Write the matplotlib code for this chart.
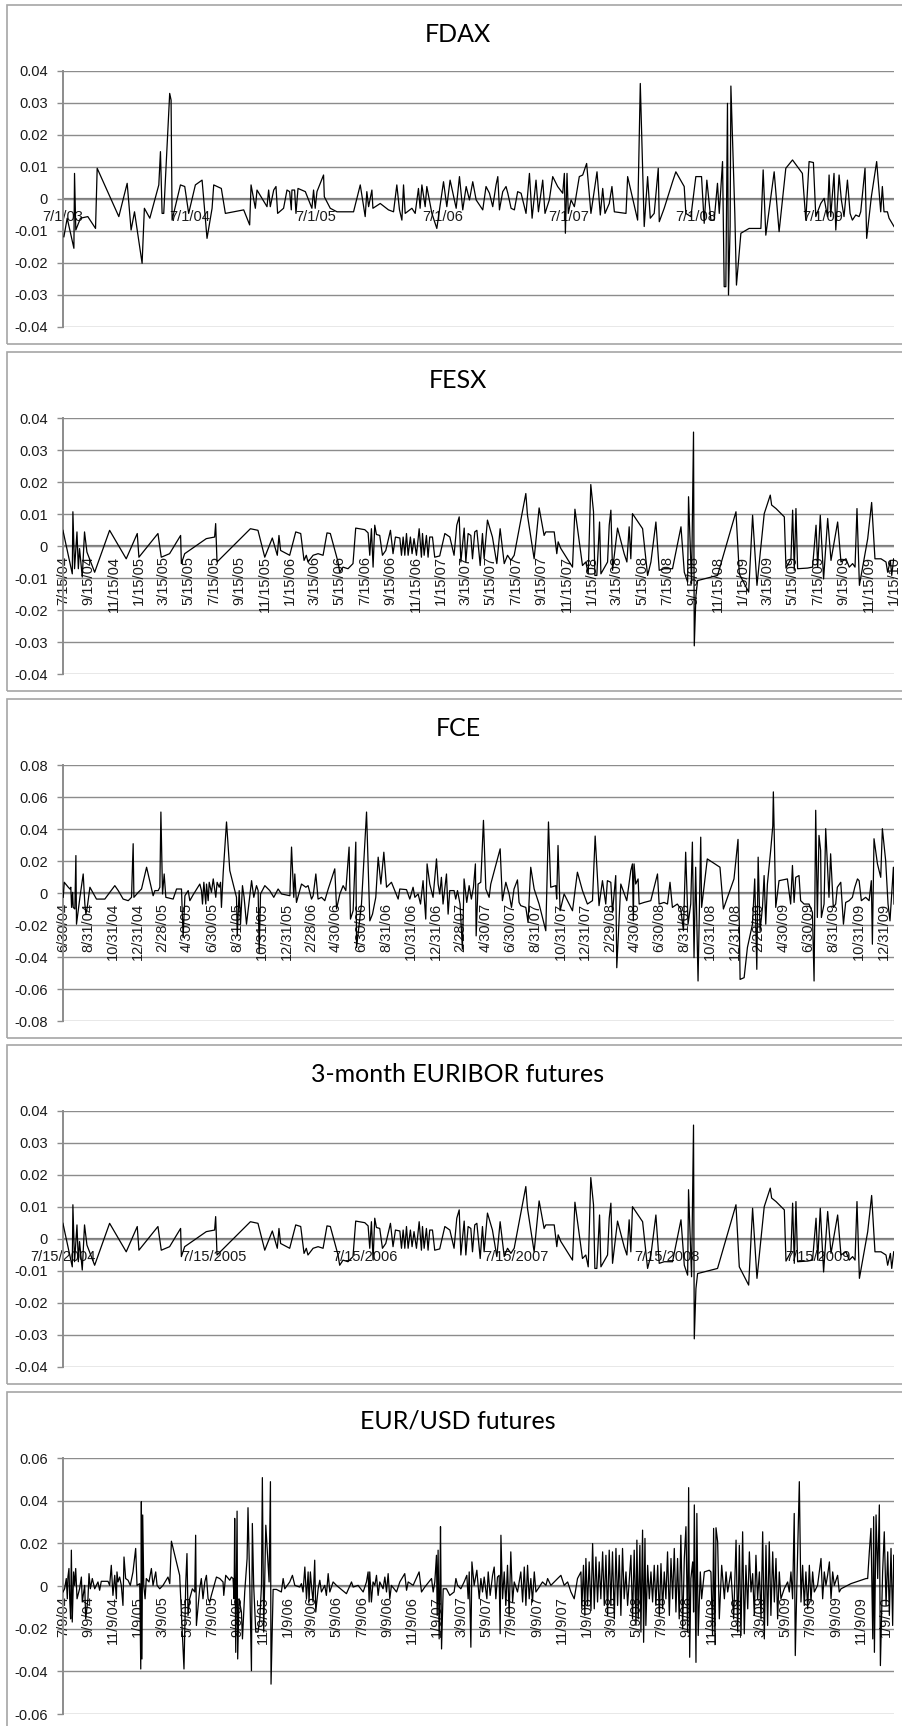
import datetime as dt
import matplotlib; matplotlib.use("Agg"); import matplotlib.pyplot as plt
from matplotlib.patches import Rectangle

# (decimal year, daily value)
fdax_pts = [
 (2003.503,-0.0118),(2003.529,-0.0060),(2003.582,-0.0154),(2003.587,0.0080),(2003.597,-0.0097),(2003.634,-0.0060),
 (2003.692,-0.0055),(2003.753,-0.0092),(2003.766,0.0096),(2003.937,-0.0055),(2004.003,0.0049),(2004.034,-0.0097),
 (2004.061,-0.0040),(2004.121,-0.0201),(2004.139,-0.0029),(2004.182,-0.0060),(2004.253,0.0044),(2004.266,0.0148),
 (2004.279,-0.0045),(2004.292,-0.0045),(2004.339,0.0330),(2004.350,0.0309),(2004.358,-0.0066),(2004.424,0.0044),
 (2004.458,0.0039),(2004.489,-0.0045),(2004.542,0.0044),(2004.595,0.0059),(2004.634,-0.0123),(2004.674,-0.0029),
 (2004.687,0.0044),(2004.747,0.0033),(2004.779,-0.0045),(2004.924,-0.0034),(2004.971,-0.0081),(2004.982,0.0044),
 (2005.016,-0.0029),(2005.029,0.0028),(2005.108,-0.0024),(2005.121,0.0028),(2005.134,-0.0024),(2005.161,0.0028),
 (2005.179,0.0039),(2005.192,-0.0045),(2005.239,-0.0029),(2005.266,0.0028),(2005.287,0.0023),(2005.300,-0.0034),
 (2005.305,0.0028),(2005.326,0.0028),(2005.337,-0.0045),(2005.353,0.0033),(2005.411,0.0023),(2005.463,-0.0029),
 (2005.476,0.0028),(2005.489,-0.0029),(2005.503,0.0023),(2005.555,0.0075),(2005.561,0.0007),(2005.608,-0.0029),
 (2005.661,-0.0040),(2005.792,-0.0040),(2005.845,0.0044),(2005.884,-0.0055),(2005.897,0.0023),(2005.911,-0.0024),
 (2005.937,0.0028),(2005.945,-0.0029),(2006.003,-0.0014),(2006.068,-0.0034),(2006.108,-0.0040),(2006.134,0.0044),
 (2006.155,-0.0034),(2006.174,-0.0066),(2006.187,0.0044),(2006.200,-0.0045),(2006.253,-0.0029),(2006.279,-0.0045),
 (2006.305,0.0033),(2006.318,-0.0029),(2006.332,0.0044),(2006.358,-0.0024),(2006.371,0.0039),(2006.411,-0.0045),
 (2006.450,-0.0092),(2006.503,0.0054),(2006.529,-0.0024),(2006.555,0.0059),(2006.603,-0.0029),(2006.629,0.0070),
 (2006.655,-0.0034),(2006.682,0.0039),(2006.708,-0.0003),(2006.734,0.0054),(2006.761,-0.0003),(2006.813,-0.0034),
 (2006.839,0.0039),(2006.866,0.0018),(2006.892,-0.0024),(2006.918,0.0044),(2006.932,0.0070),(2006.945,-0.0034),
 (2006.971,0.0023),(2006.997,0.0039),(2007.011,0.0018),(2007.037,-0.0029),(2007.063,-0.0034),(2007.089,0.0023),
 (2007.116,0.0018),(2007.129,-0.0003),(2007.155,-0.0045),(2007.182,0.0080),(2007.203,-0.0060),(2007.234,0.0059),
 (2007.253,-0.0040),(2007.287,0.0059),(2007.305,-0.0045),(2007.339,-0.0003),(2007.366,0.0070),(2007.405,0.0039),
 (2007.445,0.0018),(2007.458,0.0080),(2007.466,-0.0107),(2007.479,0.0080),(2007.489,-0.0045),(2007.511,-0.0003),
 (2007.537,-0.0024),(2007.576,0.0070),(2007.603,0.0075),(2007.634,0.0111),(2007.668,-0.0045),(2007.716,0.0085),
 (2007.742,-0.0050),(2007.761,0.0033),(2007.779,-0.0045),(2007.813,-0.0014),(2007.834,0.0039),(2007.853,-0.0040),
 (2007.945,-0.0045),(2007.958,0.0070),(2008.037,-0.0066),(2008.058,0.0361),(2008.089,-0.0086),(2008.116,0.0070),
 (2008.137,-0.0060),(2008.168,-0.0045),(2008.200,0.0096),(2008.208,-0.0071),(2008.247,-0.0029),(2008.313,0.0054),
 (2008.339,0.0085),(2008.405,0.0039),(2008.418,-0.0045),(2008.458,-0.0055),(2008.497,0.0070),(2008.542,0.0070),
 (2008.563,-0.0076),(2008.584,0.0059),(2008.616,-0.0066),(2008.642,-0.0066),(2008.668,0.0049),(2008.682,-0.0045),
 (2008.708,0.0117),(2008.721,-0.0274),(2008.734,-0.0274),(2008.747,0.0299),(2008.755,-0.0300),(2008.768,-0.0086),
 (2008.774,0.0353),(2008.805,-0.0045),(2008.818,-0.0269),(2008.853,-0.0107),(2008.918,-0.0092),(2009.011,-0.0092),
 (2009.029,0.0091),(2009.050,-0.0113),(2009.116,0.0085),(2009.155,-0.0102),(2009.208,0.0096),(2009.261,0.0122),
 (2009.339,0.0080),(2009.366,-0.0066),(2009.392,0.0117),(2009.426,0.0114),(2009.445,-0.0055),(2009.484,-0.0014),
 (2009.511,0.0002),(2009.537,-0.0055),(2009.550,0.0075),(2009.563,-0.0055),(2009.589,0.0080),(2009.603,-0.0097),
 (2009.629,0.0075),(2009.647,-0.0003),(2009.668,-0.0055),(2009.695,0.0059),(2009.716,-0.0045),(2009.734,-0.0066),
 (2009.761,-0.0050),(2009.787,-0.0055),(2009.800,-0.0040),(2009.834,0.0096),(2009.847,-0.0123),(2009.884,0.0007),
 (2009.926,0.0117),(2009.958,-0.0040),(2009.971,0.0039),(2009.984,-0.0040),(2010.011,-0.0040),(2010.024,-0.0060),
 (2010.063,-0.0086)]

fesx_pts = [
 (2004.535,0.0049),(2004.597,-0.0087),(2004.601,0.0107),(2004.612,-0.0071),(2004.628,0.0044),(2004.637,-0.0071),
 (2004.645,-0.0008),(2004.663,-0.0097),(2004.678,0.0044),(2004.694,-0.0019),(2004.745,-0.0082),(2004.844,0.0049),
 (2004.954,-0.0040),(2005.027,0.0039),(2005.038,-0.0035),(2005.164,0.0039),(2005.186,-0.0035),(2005.241,-0.0024),
 (2005.314,0.0033),(2005.319,-0.0055),(2005.341,-0.0024),(2005.484,0.0023),(2005.539,0.0028),(2005.546,0.0070),
 (2005.555,-0.0050),(2005.776,0.0054),(2005.826,0.0049),(2005.871,-0.0035),(2005.921,0.0025),(2005.954,-0.0029),
 (2005.965,0.0033),(2005.976,-0.0014),(2006.036,-0.0029),(2006.076,0.0044),(2006.109,0.0039),(2006.131,-0.0045),
 (2006.146,-0.0029),(2006.157,-0.0050),(2006.191,-0.0029),(2006.224,-0.0024),(2006.257,-0.0029),(2006.283,0.0041),
 (2006.305,0.0039),(2006.356,-0.0050),(2006.367,-0.0082),(2006.389,-0.0066),(2006.422,-0.0071),(2006.455,-0.0055),
 (2006.473,0.0056),(2006.533,0.0051),(2006.555,0.0041),(2006.566,-0.0029),(2006.577,0.0054),(2006.588,-0.0066),
 (2006.599,0.0065),(2006.610,0.0036),(2006.632,0.0033),(2006.650,-0.0029),(2006.672,-0.0014),(2006.703,0.0049),
 (2006.720,-0.0024),(2006.736,0.0028),(2006.765,0.0025),(2006.776,-0.0029),(2006.787,0.0028),(2006.798,-0.0029),
 (2006.809,0.0039),(2006.820,-0.0029),(2006.835,0.0028),(2006.846,-0.0024),(2006.859,0.0023),(2006.875,-0.0029),
 (2006.893,0.0054),(2006.908,-0.0035),(2006.915,0.0039),(2006.926,-0.0029),(2006.941,0.0033),(2006.952,-0.0035),
 (2006.963,0.0028),(2006.981,0.0028),(2006.996,-0.0035),(2007.029,-0.0031),(2007.063,0.0039),(2007.096,0.0028),
 (2007.124,-0.0029),(2007.142,0.0065),(2007.158,0.0091),(2007.169,-0.0050),(2007.191,0.0056),(2007.202,-0.0050),
 (2007.217,0.0039),(2007.235,0.0033),(2007.246,-0.0040),(2007.261,0.0044),(2007.275,0.0049),(2007.297,-0.0061),
 (2007.312,0.0039),(2007.323,-0.0040),(2007.345,0.0081),(2007.378,0.0028),(2007.407,-0.0055),(2007.429,0.0054),
 (2007.456,-0.0055),(2007.478,-0.0029),(2007.500,-0.0045),(2007.522,-0.0029),(2007.599,0.0164),(2007.610,0.0096),
 (2007.654,-0.0040),(2007.687,0.0119),(2007.720,0.0033),(2007.731,0.0044),(2007.787,0.0044),(2007.804,-0.0024),
 (2007.813,0.0013),(2007.831,-0.0008),(2007.908,-0.0066),(2007.924,0.0115),(2007.974,-0.0061),(2007.996,-0.0050),
 (2008.012,-0.0087),(2008.029,0.0192),(2008.047,0.0107),(2008.056,-0.0092),(2008.069,-0.0092),(2008.087,0.0075),
 (2008.096,-0.0087),(2008.140,-0.0050),(2008.151,0.0065),(2008.162,0.0112),(2008.173,-0.0076),(2008.206,0.0056),
 (2008.250,-0.0024),(2008.268,-0.0050),(2008.283,0.0060),(2008.294,-0.0040),(2008.305,0.0101),(2008.372,0.0054),
 (2008.405,-0.0092),(2008.427,-0.0050),(2008.460,0.0075),(2008.482,-0.0076),(2008.515,-0.0071),(2008.570,-0.0071),
 (2008.626,0.0060),(2008.648,-0.0082),(2008.670,-0.0113),(2008.676,0.0154),(2008.696,-0.0118),(2008.709,0.0356),
 (2008.714,-0.0312),(2008.725,-0.0155),(2008.736,-0.0108),(2008.868,-0.0092),(2008.990,0.0107),(2009.012,-0.0087),
 (2009.074,-0.0144),(2009.100,0.0096),(2009.129,-0.0123),(2009.177,0.0101),(2009.217,0.0159),(2009.226,0.0128),
 (2009.255,0.0117),(2009.310,0.0091),(2009.321,-0.0069),(2009.354,-0.0040),(2009.365,0.0112),(2009.376,-0.0076),
 (2009.387,0.0117),(2009.398,-0.0071),(2009.464,-0.0069),(2009.497,-0.0066),(2009.520,0.0065),(2009.531,-0.0066),
 (2009.548,0.0096),(2009.570,-0.0103),(2009.597,0.0086),(2009.619,-0.0045),(2009.663,0.0075),(2009.685,-0.0050),
 (2009.718,-0.0040),(2009.740,-0.0066),(2009.762,-0.0055),(2009.778,-0.0066),(2009.791,0.0117),(2009.807,-0.0123),
 (2009.840,-0.0035),(2009.862,0.0023),(2009.888,0.0136),(2009.910,-0.0040),(2009.950,-0.0040),(2009.983,-0.0050),
 (2009.994,-0.0082),(2010.012,-0.0045),(2010.021,-0.0092),(2010.034,-0.0040)]

# the EURIBOR panel of the source repeats the FESX series point for point
euribor_pts = list(fesx_pts)

fce_pts = [
 (2004.496,-0.0027),(2004.503,0.0067),(2004.530,0.0036),(2004.541,0.0025),(2004.547,0.0036),(2004.552,-0.0090),
 (2004.559,0.0004),(2004.563,-0.0090),(2004.574,-0.0100),(2004.581,0.0234),(2004.585,-0.0195),(2004.608,-0.0027),
 (2004.630,0.0119),(2004.641,-0.0069),(2004.648,-0.0132),(2004.657,-0.0090),(2004.675,0.0036),(2004.719,-0.0038),
 (2004.775,-0.0038),(2004.842,0.0046),(2004.865,0.0015),(2004.898,-0.0038),(2004.932,-0.0048),(2004.954,-0.0027),
 (2004.965,0.0308),(2004.970,-0.0027),(2004.999,0.0004),(2005.021,0.0025),(2005.055,0.0161),(2005.099,-0.0017),
 (2005.111,0.0015),(2005.133,0.0015),(2005.144,0.0036),(2005.151,0.0506),(2005.162,-0.0006),(2005.173,0.0119),
 (2005.184,-0.0027),(2005.233,-0.0038),(2005.256,0.0025),(2005.289,0.0025),(2005.300,-0.0278),(2005.312,-0.0017),
 (2005.334,0.0015),(2005.345,-0.0048),(2005.368,-0.0010),(2005.412,0.0056),(2005.423,0.0015),(2005.430,-0.0069),
 (2005.439,0.0067),(2005.452,-0.0069),(2005.457,0.0056),(2005.468,-0.0048),(2005.475,0.0067),(2005.490,0.0004),
 (2005.502,0.0088),(2005.519,-0.0027),(2005.528,0.0067),(2005.542,0.0036),(2005.551,0.0067),(2005.557,-0.0090),
 (2005.569,0.0130),(2005.591,0.0444),(2005.613,0.0140),(2005.636,0.0056),(2005.658,-0.0027),(2005.663,-0.0268),
 (2005.676,0.0015),(2005.685,-0.0195),(2005.698,0.0046),(2005.709,-0.0027),(2005.725,-0.0195),(2005.759,0.0077),
 (2005.774,-0.0027),(2005.792,0.0046),(2005.803,0.0015),(2005.810,-0.0372),(2005.819,-0.0006),(2005.848,0.0046),
 (2005.881,0.0015),(2005.908,-0.0027),(2005.937,0.0025),(2005.960,-0.0006),(2006.016,-0.0017),(2006.027,0.0287),
 (2006.042,-0.0027),(2006.049,0.0119),(2006.060,-0.0059),(2006.094,0.0056),(2006.123,0.0036),(2006.138,0.0046),
 (2006.161,-0.0038),(2006.172,-0.0017),(2006.190,0.0119),(2006.205,-0.0038),(2006.228,-0.0027),(2006.250,-0.0048),
 (2006.273,0.0025),(2006.317,0.0151),(2006.329,-0.0100),(2006.351,-0.0006),(2006.373,0.0046),(2006.391,0.0015),
 (2006.413,0.0287),(2006.422,-0.0163),(2006.440,-0.0111),(2006.458,0.0318),(2006.463,-0.0341),(2006.496,-0.0069),
 (2006.530,0.0506),(2006.552,-0.0174),(2006.570,-0.0132),(2006.592,-0.0027),(2006.608,0.0224),(2006.626,0.0056),
 (2006.646,0.0255),(2006.664,0.0036),(2006.697,0.0067),(2006.719,0.0015),(2006.742,-0.0038),(2006.753,0.0025),
 (2006.798,0.0021),(2006.820,-0.0038),(2006.842,0.0036),(2006.854,-0.0027),(2006.876,-0.0006),(2006.892,-0.0069),
 (2006.909,0.0077),(2006.927,-0.0163),(2006.936,0.0182),(2006.954,0.0056),(2006.976,-0.0027),(2006.999,0.0213),
 (2007.010,0.0056),(2007.021,-0.0006),(2007.032,0.0098),(2007.043,-0.0069),(2007.066,0.0119),(2007.077,-0.0132),
 (2007.088,0.0015),(2007.117,0.0015),(2007.128,-0.0038),(2007.140,0.0015),(2007.157,-0.0069),(2007.173,-0.0351),
 (2007.184,0.0088),(2007.202,-0.0059),(2007.218,0.0046),(2007.233,-0.0038),(2007.247,0.0036),(2007.260,0.0182),
 (2007.265,-0.0268),(2007.278,0.0056),(2007.296,0.0067),(2007.314,0.0454),(2007.330,0.0025),(2007.352,-0.0027),
 (2007.363,0.0056),(2007.426,0.0276),(2007.441,-0.0048),(2007.464,0.0067),(2007.486,-0.0006),(2007.502,-0.0090),
 (2007.519,0.0025),(2007.542,0.0082),(2007.553,-0.0059),(2007.564,-0.0079),(2007.598,-0.0090),(2007.613,-0.0184),
 (2007.631,0.0161),(2007.654,0.0025),(2007.687,-0.0069),(2007.732,-0.0236),(2007.750,0.0444),(2007.765,0.0036),
 (2007.799,0.0046),(2007.805,-0.0038),(2007.814,0.0297),(2007.828,-0.0111),(2007.855,-0.0006),(2007.911,-0.0111),
 (2007.944,0.0130),(2007.978,0.0015),(2008.011,-0.0069),(2008.045,-0.0048),(2008.063,0.0356),(2008.089,-0.0079),
 (2008.112,0.0077),(2008.134,-0.0069),(2008.145,0.0077),(2008.168,0.0067),(2008.179,-0.0121),(2008.201,0.0109),
 (2008.208,-0.0467),(2008.235,0.0056),(2008.275,-0.0048),(2008.302,0.0140),(2008.313,0.0182),(2008.319,-0.0174),
 (2008.324,0.0182),(2008.335,0.0056),(2008.351,0.0088),(2008.358,-0.0069),(2008.391,-0.0059),(2008.436,-0.0048),
 (2008.481,0.0119),(2008.492,-0.0069),(2008.525,-0.0059),(2008.548,-0.0069),(2008.565,0.0067),(2008.581,-0.0090),
 (2008.614,-0.0069),(2008.637,-0.0100),(2008.655,-0.0236),(2008.670,0.0255),(2008.686,-0.0195),(2008.704,-0.0069),
 (2008.715,0.0318),(2008.726,-0.0404),(2008.737,0.0161),(2008.753,-0.0550),(2008.771,0.0349),(2008.777,-0.0090),
 (2008.815,0.0213),(2008.900,0.0161),(2008.923,-0.0100),(2008.994,0.0088),(2009.021,0.0335),(2009.035,-0.0540),
 (2009.062,-0.0529),(2009.084,-0.0341),(2009.118,-0.0195),(2009.133,0.0088),(2009.147,-0.0477),(2009.156,0.0224),
 (2009.169,-0.0236),(2009.185,-0.0090),(2009.196,0.0109),(2009.207,-0.0195),(2009.218,0.0056),(2009.240,0.0266),
 (2009.254,0.0418),(2009.258,0.0632),(2009.274,-0.0090),(2009.296,0.0077),(2009.352,0.0088),(2009.374,-0.0069),
 (2009.386,0.0172),(2009.397,-0.0059),(2009.408,0.0098),(2009.430,0.0109),(2009.441,-0.0048),(2009.464,-0.0069),
 (2009.497,-0.0069),(2009.520,-0.0121),(2009.531,-0.0550),(2009.542,0.0517),(2009.553,-0.0153),(2009.564,0.0360),
 (2009.575,0.0266),(2009.580,-0.0153),(2009.598,-0.0069),(2009.609,0.0402),(2009.631,-0.0027),(2009.642,0.0245),
 (2009.660,-0.0090),(2009.676,-0.0069),(2009.687,0.0036),(2009.710,0.0067),(2009.728,-0.0195),(2009.743,-0.0059),
 (2009.766,-0.0048),(2009.788,-0.0027),(2009.804,0.0036),(2009.822,0.0088),(2009.833,0.0077),(2009.848,-0.0048),
 (2009.877,-0.0027),(2009.900,-0.0048),(2009.915,0.0077),(2009.922,-0.0320),(2009.933,0.0339),(2009.956,0.0182),
 (2009.978,0.0098),(2009.989,0.0402),(2010.011,0.0203),(2010.027,-0.0069),(2010.040,-0.0174),(2010.063,0.0161),
 (2010.067,-0.0069)]

eurusd_pts = [
 (2004.519,-0.0028),(2004.530,-0.0013),(2004.541,0.0035),(2004.548,-0.0060),(2004.552,0.0042),(2004.559,0.0082),
 (2004.564,-0.0060),(2004.570,-0.0154),(2004.575,0.0168),(2004.581,-0.0169),(2004.590,0.0066),(2004.597,0.0003),
 (2004.604,0.0082),(2004.613,-0.0060),(2004.630,-0.0013),(2004.642,0.0042),(2004.648,-0.0075),(2004.664,0.0003),
 (2004.671,-0.0154),(2004.686,-0.0060),(2004.693,0.0058),(2004.702,-0.0013),(2004.715,0.0035),(2004.731,-0.0013),
 (2004.753,0.0019),(2004.764,-0.0020),(2004.775,0.0022),(2004.820,0.0022),(2004.831,0.0003),(2004.842,0.0097),
 (2004.853,-0.0044),(2004.865,0.0050),(2004.876,-0.0060),(2004.880,0.0066),(2004.887,0.0019),(2004.898,0.0042),
 (2004.909,0.0003),(2004.920,-0.0091),(2004.927,0.0136),(2004.938,0.0035),(2004.954,0.0027),(2004.969,0.0003),
 (2004.987,0.0066),(2005.005,0.0176),(2005.014,0.0003),(2005.032,0.0011),(2005.039,-0.0389),(2005.043,0.0395),
 (2005.047,-0.0342),(2005.052,0.0333),(2005.059,0.0003),(2005.068,-0.0060),(2005.076,0.0035),(2005.094,0.0019),
 (2005.110,0.0082),(2005.121,0.0003),(2005.139,0.0066),(2005.148,0.0003),(2005.166,-0.0013),(2005.188,0.0003),
 (2005.221,0.0042),(2005.233,0.0011),(2005.244,0.0210),(2005.299,0.0050),(2005.328,-0.0389),(2005.340,0.0019),
 (2005.348,0.0152),(2005.355,-0.0138),(2005.366,-0.0060),(2005.384,-0.0013),(2005.400,-0.0028),(2005.406,0.0238),
 (2005.411,-0.0185),(2005.433,-0.0013),(2005.444,0.0035),(2005.455,-0.0060),(2005.467,0.0019),(2005.478,0.0050),
 (2005.489,-0.0060),(2005.500,-0.0075),(2005.511,-0.0044),(2005.545,0.0042),(2005.567,0.0035),(2005.589,0.0019),
 (2005.594,-0.0044),(2005.607,0.0050),(2005.634,0.0027),(2005.645,0.0042),(2005.656,0.0035),(2005.663,-0.0060),
 (2005.667,0.0317),(2005.674,-0.0311),(2005.683,0.0351),(2005.687,-0.0342),(2005.696,-0.0060),(2005.712,-0.0122),
 (2005.719,-0.0248),(2005.734,-0.0028),(2005.750,0.0129),(2005.756,0.0367),(2005.768,0.0003),(2005.779,-0.0397),
 (2005.785,0.0293),(2005.794,0.0003),(2005.808,-0.0216),(2005.823,-0.0216),(2005.835,-0.0154),(2005.846,0.0003),
 (2005.852,0.0508),(2005.861,-0.0216),(2005.875,0.0285),(2005.890,0.0105),(2005.897,0.0019),(2005.906,0.0489),
 (2005.910,-0.0460),(2005.924,-0.0016),(2005.946,-0.0016),(2005.979,-0.0028),(2005.991,0.0035),(2006.002,-0.0013),
 (2006.035,0.0019),(2006.053,0.0050),(2006.069,0.0003),(2006.102,-0.0005),(2006.113,0.0011),(2006.124,-0.0028),
 (2006.136,0.0089),(2006.147,-0.0060),(2006.158,0.0066),(2006.164,-0.0075),(2006.173,0.0066),(2006.180,0.0003),
 (2006.191,-0.0075),(2006.202,0.0121),(2006.209,-0.0122),(2006.225,-0.0013),(2006.236,0.0027),(2006.247,-0.0028),
 (2006.269,0.0003),(2006.280,-0.0044),(2006.292,0.0058),(2006.303,-0.0028),(2006.325,0.0019),(2006.347,0.0003),
 (2006.414,-0.0036),(2006.448,0.0019),(2006.459,-0.0005),(2006.492,0.0003),(2006.526,-0.0028),(2006.548,0.0019),
 (2006.559,0.0066),(2006.566,-0.0075),(2006.570,0.0066),(2006.581,-0.0075),(2006.592,0.0019),(2006.604,0.0003),
 (2006.615,0.0050),(2006.626,-0.0044),(2006.637,0.0019),(2006.659,-0.0013),(2006.671,0.0042),(2006.682,-0.0028),
 (2006.693,0.0058),(2006.704,-0.0060),(2006.715,0.0003),(2006.749,-0.0028),(2006.771,0.0019),(2006.804,0.0058),
 (2006.816,-0.0020),(2006.827,0.0019),(2006.860,0.0003),(2006.900,0.0066),(2006.916,-0.0028),(2006.938,-0.0005),
 (2006.983,0.0035),(2006.994,-0.0028),(2007.005,0.0019),(2007.016,0.0144),(2007.021,-0.0138),(2007.027,0.0168),
 (2007.034,-0.0248),(2007.039,-0.0005),(2007.043,0.0278),(2007.050,-0.0295),(2007.061,-0.0013),(2007.083,-0.0013),
 (2007.105,-0.0044),(2007.134,-0.0028),(2007.146,0.0035),(2007.157,0.0003),(2007.179,-0.0013),(2007.201,0.0019),
 (2007.219,0.0050),(2007.228,-0.0060),(2007.235,0.0066),(2007.246,-0.0287),(2007.253,0.0113),(2007.268,0.0003),
 (2007.286,0.0074),(2007.302,-0.0060),(2007.313,0.0035),(2007.324,-0.0028),(2007.335,0.0042),(2007.353,-0.0060),
 (2007.362,0.0066),(2007.375,-0.0044),(2007.391,0.0050),(2007.402,0.0089),(2007.413,-0.0060),(2007.424,0.0042),
 (2007.435,0.0050),(2007.442,-0.0224),(2007.447,0.0238),(2007.458,-0.0060),(2007.469,0.0066),(2007.480,-0.0091),
 (2007.491,0.0097),(2007.502,-0.0138),(2007.513,0.0160),(2007.525,-0.0075),(2007.536,0.0019),(2007.558,-0.0028),
 (2007.580,0.0066),(2007.592,-0.0075),(2007.603,0.0089),(2007.614,-0.0091),(2007.625,0.0097),(2007.636,-0.0060),
 (2007.647,0.0035),(2007.658,-0.0075),(2007.670,0.0066),(2007.681,-0.0028),(2007.703,-0.0005),(2007.725,0.0019),
 (2007.748,0.0003),(2007.759,0.0035),(2007.781,0.0003),(2007.803,0.0019),(2007.826,0.0035),(2007.848,0.0050),
 (2007.870,0.0003),(2007.893,0.0019),(2007.915,-0.0028),(2007.937,-0.0060),(2007.959,0.0035),(2007.982,0.0066),
 (2007.988,-0.0107),(2007.999,0.0097),(2008.008,-0.0138),(2008.015,0.0129),(2008.026,-0.0091),(2008.037,0.0113),
 (2008.049,-0.0115),(2008.060,0.0199),(2008.071,-0.0107),(2008.082,0.0136),(2008.093,-0.0075),(2008.104,0.0113),
 (2008.115,-0.0060),(2008.127,0.0160),(2008.138,-0.0091),(2008.149,0.0144),(2008.160,-0.0138),(2008.171,0.0168),
 (2008.182,-0.0091),(2008.193,0.0160),(2008.205,-0.0154),(2008.216,0.0176),(2008.227,-0.0091),(2008.238,0.0144),
 (2008.249,-0.0138),(2008.260,0.0176),(2008.271,-0.0060),(2008.283,0.0066),(2008.294,-0.0091),(2008.316,0.0144),
 (2008.327,-0.0154),(2008.338,0.0168),(2008.350,-0.0185),(2008.356,0.0215),(2008.365,-0.0154),(2008.376,0.0191),
 (2008.383,-0.0216),(2008.394,0.0262),(2008.401,-0.0264),(2008.410,0.0223),(2008.416,-0.0185),(2008.428,0.0097),
 (2008.439,-0.0060),(2008.450,0.0066),(2008.461,-0.0075),(2008.472,0.0097),(2008.483,-0.0091),(2008.495,0.0097),
 (2008.506,-0.0138),(2008.517,0.0105),(2008.528,-0.0107),(2008.539,0.0066),(2008.550,-0.0060),(2008.561,0.0160),
 (2008.573,-0.0138),(2008.584,0.0129),(2008.595,-0.0060),(2008.606,0.0176),(2008.617,-0.0122),(2008.628,0.0129),
 (2008.639,-0.0154),(2008.650,0.0238),(2008.662,-0.0201),(2008.673,0.0129),(2008.684,0.0278),(2008.695,-0.0216),
 (2008.702,0.0461),(2008.709,-0.0334),(2008.717,0.0035),(2008.729,0.0113),(2008.735,-0.0122),(2008.740,0.0380),
 (2008.751,-0.0358),(2008.757,0.0340),(2008.766,-0.0232),(2008.780,0.0066),(2008.789,-0.0060),(2008.807,0.0066),
 (2008.840,0.0074),(2008.851,0.0066),(2008.862,-0.0232),(2008.869,0.0270),(2008.878,-0.0275),(2008.885,0.0273),
 (2008.896,0.0207),(2008.907,-0.0154),(2008.923,0.0097),(2008.941,-0.0060),(2008.952,0.0066),(2008.963,-0.0028),
 (2008.985,0.0066),(2009.003,-0.0154),(2009.019,0.0215),(2009.030,-0.0216),(2009.041,0.0191),(2009.052,-0.0232),
 (2009.063,0.0254),(2009.074,-0.0224),(2009.085,0.0097),(2009.097,-0.0107),(2009.108,0.0160),(2009.119,-0.0028),
 (2009.130,0.0058),(2009.141,-0.0138),(2009.152,0.0144),(2009.163,-0.0060),(2009.175,0.0066),(2009.186,-0.0154),
 (2009.197,0.0254),(2009.208,-0.0248),(2009.219,0.0191),(2009.230,-0.0185),(2009.241,0.0207),(2009.252,-0.0138),
 (2009.264,0.0160),(2009.275,-0.0075),(2009.286,0.0129),(2009.297,-0.0154),(2009.308,0.0066),(2009.319,-0.0060),
 (2009.341,-0.0013),(2009.364,0.0019),(2009.375,-0.0028),(2009.386,0.0066),(2009.397,-0.0060),(2009.408,0.0340),
 (2009.415,-0.0326),(2009.426,0.0019),(2009.442,0.0489),(2009.453,-0.0075),(2009.464,0.0097),(2009.475,-0.0091),
 (2009.486,0.0066),(2009.498,-0.0107),(2009.509,0.0097),(2009.520,-0.0075),(2009.531,0.0066),(2009.542,-0.0028),
 (2009.564,0.0003),(2009.587,0.0129),(2009.598,-0.0060),(2009.609,0.0066),(2009.620,0.0003),(2009.631,0.0050),
 (2009.643,0.0113),(2009.654,-0.0060),(2009.665,0.0066),(2009.676,0.0003),(2009.698,0.0050),(2009.709,-0.0028),
 (2009.721,-0.0013),(2009.787,0.0011),(2009.888,0.0035),(2009.899,0.0035),(2009.910,0.0160),(2009.921,0.0270),
 (2009.933,-0.0248),(2009.939,0.0325),(2009.944,-0.0311),(2009.955,0.0333),(2009.966,0.0035),(2009.977,0.0380),
 (2009.984,-0.0373),(2009.999,0.0066),(2010.010,0.0254),(2010.022,-0.0091),(2010.033,0.0160),(2010.044,-0.0138),
 (2010.055,0.0176),(2010.066,-0.0185),(2010.073,0.0144)]

fdax_ticks = ["7/1/03", "7/1/04", "7/1/05", "7/1/06", "7/1/07", "7/1/08", "7/1/09"]
fesx_ticks = ["7/15/04", "9/15/04", "11/15/04", "1/15/05", "3/15/05", "5/15/05", "7/15/05", "9/15/05",
              "11/15/05", "1/15/06", "3/15/06", "5/15/06", "7/15/06", "9/15/06", "11/15/06", "1/15/07",
              "3/15/07", "5/15/07", "7/15/07", "9/15/07", "11/15/07", "1/15/08", "3/15/08", "5/15/08",
              "7/15/08", "9/15/08", "11/15/08", "1/15/09", "3/15/09", "5/15/09", "7/15/09", "9/15/09",
              "11/15/09", "1/15/10"]
fce_ticks = ["6/30/04", "8/31/04", "10/31/04", "12/31/04", "2/28/05", "4/30/05", "6/30/05", "8/31/05",
             "10/31/05", "12/31/05", "2/28/06", "4/30/06", "6/30/06", "8/31/06", "10/31/06", "12/31/06",
             "2/28/07", "4/30/07", "6/30/07", "8/31/07", "10/31/07", "12/31/07", "2/29/08", "4/30/08",
             "6/30/08", "8/31/08", "10/31/08", "12/31/08", "2/28/09", "4/30/09", "6/30/09", "8/31/09",
             "10/31/09", "12/31/09"]
euribor_ticks = ["7/15/2004", "7/15/2005", "7/15/2006", "7/15/2007", "7/15/2008", "7/15/2009"]
eurusd_ticks = ["7/9/04", "9/9/04", "11/9/04", "1/9/05", "3/9/05", "5/9/05", "7/9/05", "9/9/05",
                "11/9/05", "1/9/06", "3/9/06", "5/9/06", "7/9/06", "9/9/06", "11/9/06", "1/9/07",
                "3/9/07", "5/9/07", "7/9/07", "9/9/07", "11/9/07", "1/9/08", "3/9/08", "5/9/08",
                "7/9/08", "9/9/08", "11/9/08", "1/9/09", "3/9/09", "5/9/09", "7/9/09", "9/9/09",
                "11/9/09", "1/9/10"]

def dec_year(lbl):
    m, d, y = map(int, lbl.split("/"))
    if y < 100: y += 2000
    d0 = dt.date(y, 1, 1); n = (dt.date(y + 1, 1, 1) - d0).days
    return y + (dt.date(y, m, d) - d0).days / n

# title, points, tick labels, rotated?, y limit, y step, right x limit, box top (px)
panels = [
    ("FDAX", fdax_pts, fdax_ticks, False, 0.04, 0.01, 2010.063, 5),
    ("FESX", fesx_pts, fesx_ticks, True, 0.04, 0.01, 2010.036, 352),
    ("FCE", fce_pts, fce_ticks, True, 0.08, 0.02, 2010.067, 699),
    ("3-month EURIBOR futures", euribor_pts, euribor_ticks, False, 0.04, 0.01, 2010.036, 1045),
    ("EUR/USD futures", eurusd_pts, eurusd_ticks, True, 0.06, 0.02, 2010.075, 1392),
]

W, H = 902, 1726
plt.rcParams["font.family"] = ["Liberation Sans", "DejaVu Sans"]
GRID = "#8c8c8c"
fig = plt.figure(figsize=(W / 100, H / 100), dpi=100)

for title, pts, ticks, rot, ylim, ystep, xmax, top in panels:
    fig.patches.append(Rectangle((7 / W, 1 - (top + 339) / H), 1.0, 339 / H, transform=fig.transFigure,
                                 fill=False, ec="#a6a6a6", lw=1.2))
    fig.text(458 / W, 1 - (top + 29) / H, title, ha="center", va="center", fontsize=18, family=["Lato", "DejaVu Sans"])
    ax = fig.add_axes([63 / W, 1 - (top + 322) / H, 831 / W, 256 / H])
    xs, ys = zip(*pts)
    ax.plot(xs, ys, color="black", lw=0.9, zorder=3)
    ax.set_xlim(dec_year(ticks[0]), xmax)
    ax.set_ylim(-ylim, ylim)
    n = int(round(ylim / ystep))
    yt = [k * ystep for k in range(-n, n + 1)]
    ax.set_yticks(yt)
    ax.set_yticklabels(["0" if k == 0 else f"{k * ystep:.2f}" for k in range(-n, n + 1)])
    ax.grid(axis="y", color=GRID, lw=1.0, zorder=0)
    ax.axhline(0, color="#7a7a7a", lw=1.6, zorder=1)
    for s in ["top", "right", "bottom"]: ax.spines[s].set_visible(False)
    ax.spines["left"].set_color(GRID); ax.spines["left"].set_linewidth(1.4)
    ax.tick_params(axis="y", length=4, width=1, color=GRID, pad=7, labelsize=10.5, labelcolor="#1a1a1a")
    ax.tick_params(axis="x", bottom=False, labelbottom=False)
    for lbl in ticks:
        ax.annotate(lbl, xy=(dec_year(lbl), 0), xytext=(0, -7 if rot else -8), textcoords="offset points",
                    ha="center", va="top", rotation=90 if rot else 0, fontsize=10.5, color="#1a1a1a",
                    annotation_clip=False, zorder=2)

fig.savefig("out.png", dpi=100)
